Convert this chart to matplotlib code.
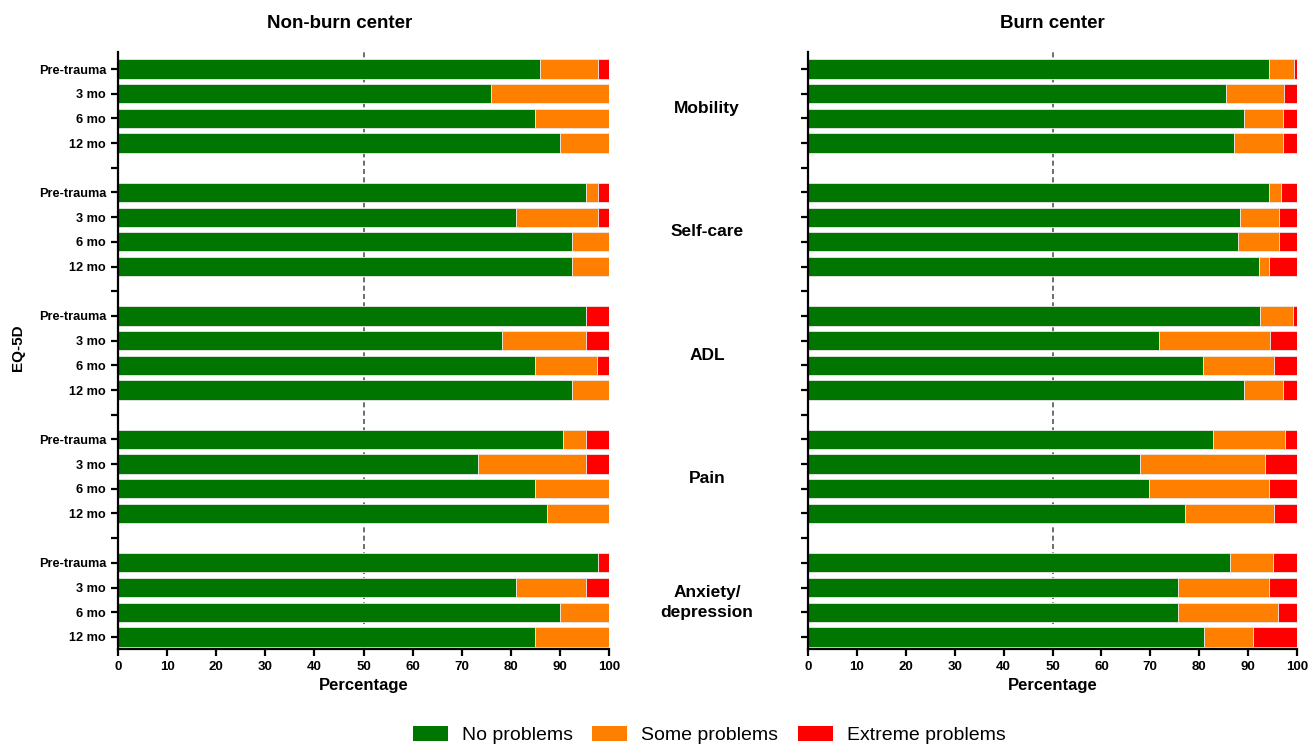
import matplotlib
matplotlib.use('Agg')
import matplotlib.pyplot as plt
from matplotlib.patches import Patch
from matplotlib.transforms import blended_transform_factory

plt.rcParams['font.family'] = ['Liberation Sans', 'DejaVu Sans']

domains = ['Mobility', 'Self-care', 'ADL', 'Pain', 'Anxiety/\ndepression']
times = ['Pre-trauma', '3 mo', '6 mo', '12 mo']

# percentages: no problems, some problems (extreme = rest up to 100)
nonburn_none = [86, 76, 85, 90,
                95.3, 81, 92.5, 92.5,
                95.3, 78.2, 85, 92.5,
                90.6, 73.4, 85, 87.4,
                97.7, 81, 90, 85]
nonburn_some = [11.7, 24, 15, 10,
                2.4, 16.7, 7.5, 7.5,
                0, 17.1, 12.5, 7.5,
                4.8, 21.9, 15, 12.6,
                0, 14.3, 10, 15]

burn_none = [94.2, 85.5, 89.1, 87.1,
             94.2, 88.4, 88.0, 92.2,
             92.4, 71.8, 80.8, 89.2,
             82.8, 67.9, 69.7, 77.1,
             86.2, 75.7, 75.7, 81.0]
burn_some = [5.2, 11.8, 8.1, 10.1,
             2.5, 7.9, 8.3, 2.0,
             6.8, 22.6, 14.4, 8.0,
             14.7, 25.5, 24.5, 18.1,
             8.8, 18.6, 20.4, 10.1]

legend_labels = ['No problems', 'Some problems', 'Extreme problems']
colors = ['#007600', '#ff7f00', '#ff0000']

# slot positions: 4 bars per domain plus one empty slot between domains
pos = []
for g in range(len(domains)):
    for t in range(len(times)):
        pos.append(g * 5 + t)
ticks = list(range(24))
ticklabels = []
for i in ticks:
    if i % 5 == 4:
        ticklabels.append('')
    else:
        ticklabels.append(times[i % 5])

fig = plt.figure(figsize=(13.16, 7.48), dpi=100)
ax1 = fig.add_axes([118/1316, 99/748, 491/1316, 597/748])
ax2 = fig.add_axes([808/1316, 99/748, 489/1316, 597/748])


def draw(ax, none, some, showlabels):
    extreme = [100 - a - b for a, b in zip(none, some)]
    left_ext = [a + b for a, b in zip(none, some)]
    ax.axvline(50, color='#555555', ls=(0, (3, 2)), lw=1.2, zorder=1)
    kw = dict(height=0.78, edgecolor='#e8e8e8', linewidth=0.6, zorder=2)
    ax.barh(pos, none, color=colors[0], **kw)
    ax.barh(pos, some, left=none, color=colors[1], **kw)
    ax.barh(pos, extreme, left=left_ext, color=colors[2], **kw)
    ax.set_xlim(0, 100)
    ax.set_ylim(23.49, -0.69)
    ax.set_xticks(range(0, 101, 10))
    ax.set_yticks(ticks)
    if showlabels:
        ax.set_yticklabels(ticklabels, fontsize=9.2, fontweight='bold')
    else:
        ax.set_yticklabels([])
    for lab in ax.get_xticklabels():
        lab.set_fontsize(9.5)
        lab.set_fontweight('bold')
    ax.spines['top'].set_visible(False)
    ax.spines['right'].set_visible(False)
    ax.spines['left'].set_linewidth(1.6)
    ax.spines['bottom'].set_linewidth(1.6)
    ax.tick_params(width=1.6, length=5)
    ax.set_xlabel('Percentage', fontsize=12, fontweight='bold', labelpad=4)


draw(ax1, nonburn_none, nonburn_some, True)
draw(ax2, burn_none, burn_some, False)

fig.text(340/1316, 1 - 23/748, 'Non-burn center', ha='center', va='center',
         fontsize=13.5, fontweight='bold')
fig.text(1052/1316, 1 - 23/748, 'Burn center', ha='center', va='center',
         fontsize=13.5, fontweight='bold')
fig.text(18/1316, 0.535, 'EQ-5D', rotation=90, ha='center', va='center',
         fontsize=11, fontweight='bold')

tr = blended_transform_factory(fig.transFigure, ax1.transData)
for g, name in enumerate(domains):
    ax1.text(707/1316, g * 5 + 1.6, name, transform=tr, ha='center', va='center',
             fontsize=12.5, fontweight='bold', linespacing=1.45)

handles = [Patch(facecolor=c, edgecolor='none') for c in colors]
fig.legend(handles, legend_labels, loc='center', bbox_to_anchor=(709/1316, 1 - 735/748),
           ncol=3, frameon=False, fontsize=14, handlelength=1.8, handleheight=0.85,
           columnspacing=1.0, handletextpad=0.72)

fig.savefig('out.png', dpi=100)
